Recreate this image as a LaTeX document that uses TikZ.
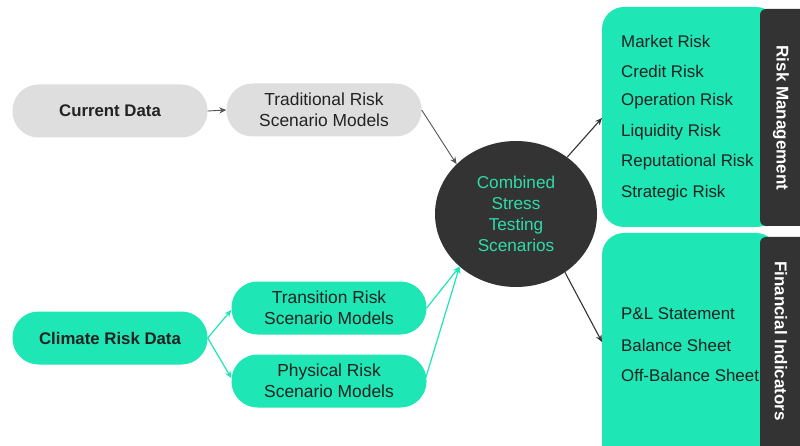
\documentclass[tikz,border=0pt]{standalone}
\usepackage{fontspec}
\setmainfont{Liberation Sans}
\usetikzlibrary{arrows.meta,shapes.geometric}
\definecolor{teal1}{HTML}{1EE6B4}
\definecolor{tealtxt}{HTML}{2EDCAA}
\definecolor{lgray}{HTML}{DEDEDE}
\definecolor{dgray}{HTML}{333333}
\definecolor{agray}{HTML}{555555}
\definecolor{txt}{HTML}{222222}
\tikzset{
  pill/.style={rounded corners=26pt, minimum width=195pt, minimum height=53pt, align=center, inner sep=0pt, text=txt, font=\fontsize{17.4}{20.5}\selectfont},
  graypill/.style={pill, fill=lgray},
  greenpill/.style={pill, fill=teal1},
  garrow/.style={draw=agray, line width=0.9pt, -{Stealth[length=7pt,width=6pt]}},
  tarrow/.style={draw=teal1, line width=1.2pt, -{Stealth[length=7pt,width=6pt]}},
  darrow/.style={draw=dgray, line width=1.1pt, -{Stealth[length=7pt,width=6pt]}},
  item/.style={anchor=west, text=txt, inner sep=0pt, font=\fontsize{16.9}{20}\selectfont},
  vlabel/.style={rotate=-90, text=white, font=\bfseries\fontsize{17}{20}\selectfont, inner sep=0pt},
}
\begin{document}
\begin{tikzpicture}[x=1pt,y=-1pt]
\clip (0,0) rectangle (800,446);
\fill[white] (0,0) rectangle (800,446);
% left pills
\node[graypill, font=\bfseries\fontsize{16.8}{20}\selectfont] (cur) at (110,111) {Current Data};
\node[graypill] (trad) at (324,110) {Traditional Risk\\Scenario Models};
\node[greenpill, font=\bfseries\fontsize{16.8}{20}\selectfont] (clim) at (110,338) {Climate Risk Data};
\node[greenpill] (tran) at (329,308) {Transition Risk\\Scenario Models};
\node[greenpill] (phys) at (329,381) {Physical Risk\\Scenario Models};
% circle
\node[ellipse, fill=dgray, minimum width=162pt, minimum height=146pt, inner sep=0pt, align=center, text=tealtxt, font=\fontsize{17.2}{21}\selectfont] (comb) at (516,214) {Combined\\Stress\\Testing\\Scenarios};
% right boxes
\fill[teal1, rounded corners=22pt] (602,7) rectangle (778,227);
\fill[dgray, rounded corners=6pt] (760,9) rectangle (830,226);
\fill[teal1, rounded corners=22pt] (602,233) rectangle (778,480);
\fill[dgray, rounded corners=6pt] (760,237) rectangle (830,480);
\node[vlabel] (rm) at (781,118) {Risk Management};
\node[vlabel] (fi) at (781,341) {Financial Indicators};
\coordinate (rtop) at (602,118);
\coordinate (rbot) at (602,342);
\node[item] (i1) at (621,41) {Market Risk};
\node[item] (i2) at (621,71) {Credit Risk};
\node[item] (i3) at (621,101) {Operation Risk};
\node[item] (i4) at (621,132) {Liquidity Risk};
\node[item] (i5) at (621,162) {Reputational Risk};
\node[item] (i6) at (621,193) {Strategic Risk};
\node[item] (j1) at (621,314) {P\&L Statement};
\node[item] (j2) at (621,345) {Balance Sheet};
\node[item] (j3) at (621,375) {Off-Balance Sheet};
% arrows
\draw[garrow] (cur.east) -- (trad.west);
\draw[garrow] (trad.east) -- (comb.140);
\draw[tarrow] (clim.east) -- ([yshift=-2pt]tran.west);
\draw[tarrow] (clim.east) -- ([yshift=3pt]phys.west);
\draw[tarrow] (tran.east) -- (comb.223);
\draw[tarrow] (phys.east) ++(-1,-3) -- (comb.223);
\draw[darrow] (comb.48) -- (rtop);
\draw[darrow] (comb.-50) -- (rbot);
\end{tikzpicture}
\end{document}
